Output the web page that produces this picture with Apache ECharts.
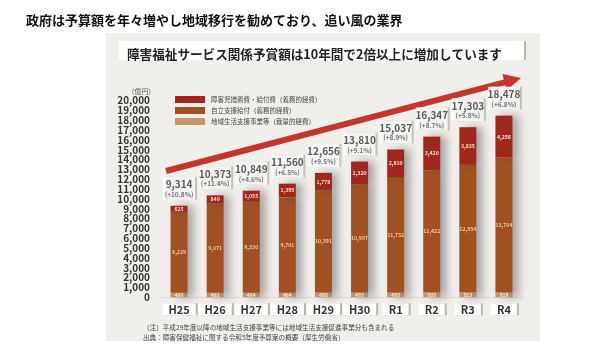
<!DOCTYPE html>
<html>
<head>
<meta charset="utf-8">
<script src="https://cdn.jsdelivr.net/npm/echarts@6/dist/echarts.min.js"></script>
<style>
  html, body { margin: 0; padding: 0; background: #ffffff; }
  #chart { width: 615px; height: 346px; }
</style>
</head>
<body>
<div id="chart"></div>
<script>
// 年度
const years = ['H25', 'H26', 'H27', 'H28', 'H29', 'H30', 'R1', 'R2', 'R3', 'R4'];
// 障害児措置費・給付費（義務的経費）
const childCare = [625, 840, 1055, 1395, 1778, 2320, 2810, 3420, 3835, 4256];
// 自立支援給付（義務的経費）
const selfSupport = [8229, 9071, 9330, 9701, 10391, 10997, 11732, 12422, 12954, 13704];
// 地域生活支援事業等（裁量的経費）
const community = [460, 462, 464, 464, 488, 493, 495, 505, 513, 518];
// 合計と前年度比
const totals = [9314, 10373, 10849, 11560, 12656, 13810, 15037, 16347, 17303, 18478];
const growth = ['+10.8%', '+11.4%', '+4.6%', '+6.5%', '+9.5%', '+9.1%', '+8.9%', '+8.7%', '+5.8%', '+6.8%'];
// 縦軸の目盛
const yTicks = { min: 0, max: 20000, interval: 1000 };

const seriesNames = ['障害児措置費・給付費（義務的経費）', '自立支援給付（義務的経費）', '地域生活支援事業等（裁量的経費）'];
const FONT = '"Noto Sans CJK JP", "Noto Sans", sans-serif';
const fmt = v => v.toLocaleString('en-US');

const barShadow = {
  shadowColor: 'rgba(70,70,70,0.45)',
  shadowBlur: 9,
  shadowOffsetX: 6,
  shadowOffsetY: 0
};

const chart = echarts.init(document.getElementById('chart'));

// 右上がりの矢印（装飾）
const arrowStart = [166, 171];
const arrowTip = [521, 78];
const dx = arrowTip[0] - arrowStart[0], dy = arrowTip[1] - arrowStart[1];
const len = Math.hypot(dx, dy);
const ux = dx / len, uy = dy / len;
const headLen = 17, headHalf = 8.5;
const base = [arrowTip[0] - headLen * ux, arrowTip[1] - headLen * uy];
const px = -uy, py = ux;

chart.setOption({
  backgroundColor: '#ffffff',
  textStyle: { fontFamily: FONT },
  animation: false,
  graphic: [
    { type: 'rect', z: -10, silent: true,
      shape: { x: 106, y: 33, width: 434, height: 308 },
      style: { fill: '#f1efeb' } },
    { type: 'rect', z: -9, silent: true,
      shape: { x: 119, y: 41, width: 405, height: 19 },
      style: { fill: '#ffffff', shadowColor: '#b9b6b1', shadowOffsetX: 2, shadowBlur: 0 } },
    { type: 'line', z: 1, silent: true,
      shape: { x1: arrowStart[0], y1: arrowStart[1], x2: base[0] + 2 * ux, y2: base[1] + 2 * uy },
      style: { stroke: '#c2362b', lineWidth: 6 } },
    { type: 'polygon', z: 1, silent: true,
      shape: { points: [arrowTip, [base[0] + headHalf * px, base[1] + headHalf * py], [base[0] - headHalf * px, base[1] - headHalf * py]] },
      style: { fill: '#c2362b' } }
  ],
  title: [
    { text: '政府は予算額を年々増やし地域移行を勧めており、追い風の業界',
      left: 21, top: 9,
      textStyle: { fontFamily: FONT, fontSize: 13, fontWeight: 'bold', color: '#111' } },
    { text: '障害福祉サービス関係予賞額は10年間で2倍以上に増加しています',
      left: 122, top: 43,
      textStyle: { fontFamily: FONT, fontSize: 12.6, fontWeight: 'bold', color: '#222' } },
    { text: '（注）平成29年度以降の地域生活支援事業等には地域生活支援促進事業分も含まれる\n出典：障害保健福祉に関する令和5年度予算案の概要（厚生労働省）',
      left: 138, top: 318,
      textStyle: { fontFamily: FONT, fontSize: 6.6, fontWeight: 'normal', color: '#444', lineHeight: 9.5 } }
  ],
  legend: {
    data: seriesNames,
    orient: 'vertical',
    left: 170, top: 91,
    itemWidth: 30, itemHeight: 7, itemGap: 4,
    icon: 'rect',
    textStyle: { fontFamily: FONT, fontSize: 6.5, color: '#444', padding: [0, 0, 0, 1] }
  },
  grid: { left: 161, right: 93, top: 100.7, bottom: 48.7, containLabel: false },
  xAxis: {
    type: 'category',
    data: years,
    axisLine: { lineStyle: { color: '#dcd9d4', width: 1 } },
    axisTick: { show: false },
    axisLabel: {
      margin: 6,
      fontFamily: FONT, fontSize: 11, fontWeight: 'bold', color: '#333',
      backgroundColor: '#ffffff', padding: [1, 6, 0, 6],
      shadowColor: '#b9b6b1', shadowOffsetX: 2, shadowBlur: 0
    }
  },
  yAxis: {
    type: 'value',
    min: yTicks.min, max: yTicks.max, interval: yTicks.interval,
    name: '（億円）',
    nameLocation: 'end',
    nameGap: 6,
    nameTextStyle: { fontFamily: FONT, fontSize: 6.8, color: '#555', align: 'right', padding: [0, 6, 0, 0] },
    axisLine: { show: false },
    axisTick: { show: false },
    splitLine: { show: false },
    axisLabel: {
      margin: 11,
      fontFamily: FONT, fontSize: 10, fontWeight: 'bold', color: '#333',
      formatter: v => fmt(v)
    }
  },
  series: [
    {
      name: seriesNames[2], type: 'bar', stack: 'total', data: community,
      barWidth: 17,
      itemStyle: Object.assign({ color: '#c8956a' }, barShadow),
      label: { show: true, position: 'inside', formatter: p => fmt(p.value),
        fontSize: 5, fontWeight: 'bold', color: '#f6e7d6' }
    },
    {
      name: seriesNames[1], type: 'bar', stack: 'total', data: selfSupport,
      barWidth: 17,
      itemStyle: Object.assign({ color: '#a2501f' }, barShadow),
      label: { show: true, position: 'inside', formatter: p => fmt(p.value),
        fontSize: 5.2, fontWeight: 'bold', color: '#f3c99d' }
    },
    {
      name: seriesNames[0], type: 'bar', stack: 'total', data: childCare,
      barWidth: 17,
      itemStyle: Object.assign({ color: '#a1271d' }, barShadow),
      label: { show: true, position: 'inside', formatter: p => fmt(p.value),
        fontSize: 5.2, fontWeight: 'bold', color: '#f8ddd6' }
    },
    {
      name: 'totals', type: 'scatter', data: totals,
      symbolSize: 0, silent: true, z: 5,
      label: {
        show: true, position: 'top', distance: 6,
        fontFamily: FONT, fontSize: 10, fontWeight: 'bold', color: '#333',
        width: 28, align: 'center',
        formatter: p => '{a|' + fmt(p.value) + '}\n{b|(' + growth[p.dataIndex] + ')}',
        backgroundColor: '#ffffff', padding: [2, 2, 1, 2],
        shadowColor: '#b9b6b1', shadowOffsetX: 2, shadowBlur: 0,
        rich: {
          a: { fontFamily: FONT, fontSize: 10, fontWeight: 'bold', color: '#333', lineHeight: 11, align: 'center' },
          b: { fontFamily: FONT, fontSize: 6.5, color: '#555', lineHeight: 9, align: 'center' }
        }
      }
    }
  ]
});
</script>
</body>
</html>
